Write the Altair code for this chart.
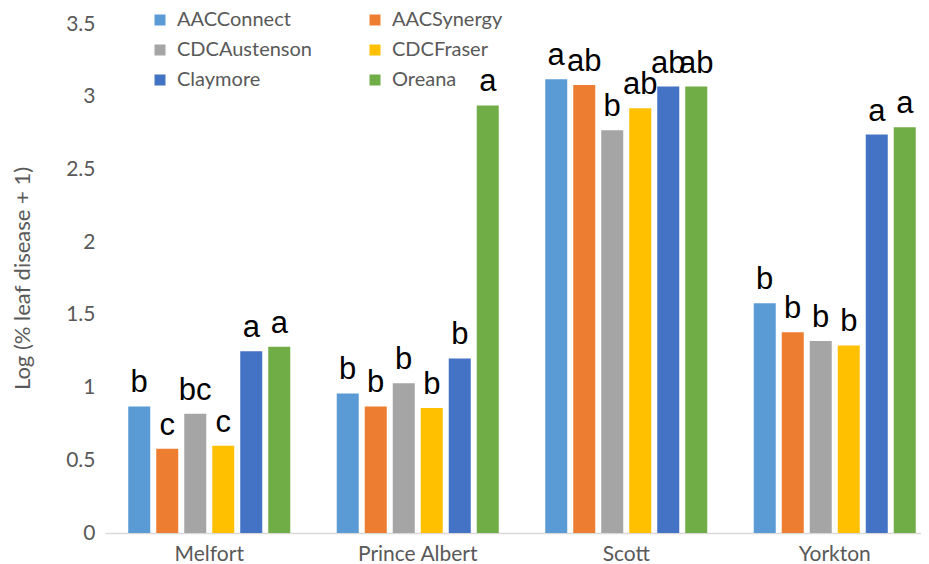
import altair as alt
import pandas as pd

locations = ["Melfort", "Prince Albert", "Scott", "Yorkton"]
cultivars = ["AACConnect", "AACSynergy", "CDCAustenson", "CDCFraser", "Claymore", "Oreana"]
colors = ["#5B9BD5", "#ED7D31", "#A5A5A5", "#FFC000", "#4472C4", "#70AD47"]

# values per cultivar, in order of locations
aacconnect = [0.87, 0.96, 3.12, 1.58]
aacsynergy = [0.58, 0.87, 3.08, 1.38]
cdcaustenson = [0.82, 1.03, 2.77, 1.32]
cdcfraser = [0.60, 0.86, 2.92, 1.29]
claymore = [1.25, 1.20, 3.07, 2.74]
oreana = [1.28, 2.94, 3.07, 2.79]

# significance letters per location, in order of cultivars
letters_melfort = ["b", "c", "bc", "c", "a", "a"]
letters_prince_albert = ["b", "b", "b", "b", "b", "a"]
letters_scott = ["a", "ab", "b", "ab", "ab", "ab"]
letters_yorkton = ["b", "b", "b", "b", "a", "a"]

y_ticks = [0, 0.5, 1, 1.5, 2, 2.5, 3, 3.5]

series = [aacconnect, aacsynergy, cdcaustenson, cdcfraser, claymore, oreana]
letters = [letters_melfort, letters_prince_albert, letters_scott, letters_yorkton]

rows = []
for ci, cv in enumerate(cultivars):
    for li, loc in enumerate(locations):
        rows.append({"location": loc, "cultivar": cv,
                     "value": series[ci][li], "letter": letters[li][ci]})
df = pd.DataFrame(rows)

# legend is filled column by column: reorder so it reads row by row
legend_order = [cultivars[i] for i in (0, 2, 4, 1, 3, 5)]
legend_colors = [colors[i] for i in (0, 2, 4, 1, 3, 5)]

FONT = "Lato"
GRAY = "#595959"

x_enc = alt.X("location:N", sort=locations, title=None,
              scale=alt.Scale(paddingInner=0, paddingOuter=0, range=[0, 834]),
              axis=alt.Axis(labelAngle=0, ticks=False, domainColor="#D9D9D9",
                            domainWidth=1.5, labelFontSize=21, labelColor=GRAY,
                            labelFont=FONT, labelPadding=10))
xoff = alt.XOffset("cultivar:N", sort=cultivars,
                   scale=alt.Scale(paddingInner=0.214, paddingOuter=0.83))
y_enc = alt.Y("value:Q", title="Log (% leaf disease + 1)",
              scale=alt.Scale(domain=[0, 3.5], nice=False),
              axis=alt.Axis(values=y_ticks, format="~g", grid=False, domain=False,
                            ticks=False, labelFontSize=21, labelColor=GRAY,
                            labelFont=FONT, labelPadding=10,
                            titleFont=FONT, titleFontSize=22, titleColor=GRAY,
                            titleFontWeight="normal", titleX=-83, titleY=254,
                            titleBaseline="middle", titleAngle=270))

bars = alt.Chart(df).mark_bar().encode(
    x=x_enc,
    xOffset=xoff,
    y=y_enc,
    color=alt.Color("cultivar:N",
                    scale=alt.Scale(domain=legend_order, range=legend_colors),
                    legend=alt.Legend(title=None, orient="none", legendX=45, legendY=-14,
                                      columns=2, columnPadding=52, rowPadding=10,
                                      symbolType="square", symbolSize=121,
                                      symbolStrokeWidth=0, labelFont=FONT,
                                      labelFontSize=20, labelColor=GRAY,
                                      labelOffset=7, padding=0)),
)

text = alt.Chart(df).mark_text(fontSize=31, font="Liberation Sans", color="black",
                               baseline="alphabetic", dy=-14).encode(
    x=alt.X("location:N", sort=locations),
    xOffset=alt.XOffset("cultivar:N", sort=cultivars),
    y="value:Q",
    text="letter:N",
)

chart = (bars + text).properties(
    width=816, height=509,
    autosize=alt.AutoSizeParams(type="none"),
    padding={"left": 97, "top": 16, "right": 0, "bottom": 30},
).configure_view(stroke=None)

chart.save("out.html", embed_options={"renderer": "svg", "actions": False})
